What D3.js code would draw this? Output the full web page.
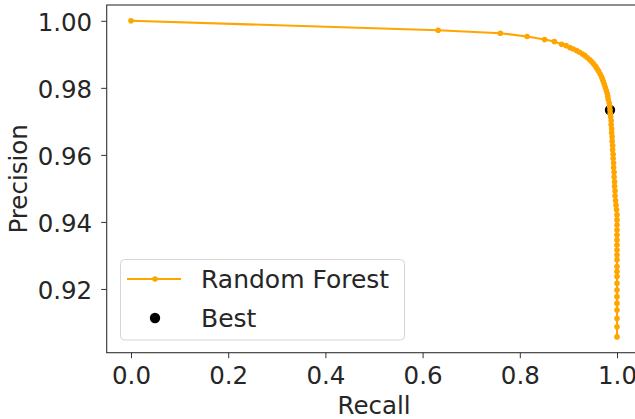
<!DOCTYPE html>
<html>
<head>
<meta charset="utf-8">
<script src="https://cdn.jsdelivr.net/npm/d3@7"></script>
<style>
  html, body { margin: 0; padding: 0; background: #fff; }
  svg { display: block; font-family: "DejaVu Sans", sans-serif; }
</style>
</head>
<body>
<svg id="chart" width="635" height="419"></svg>
<script>
// Precision-recall curve of the random forest classifier
const recall = [
  0.0, 0.632, 0.760, 0.815, 0.851, 0.871, 0.886, 0.895, 0.903, 0.910,
  0.917, 0.923, 0.929, 0.934, 0.939, 0.944, 0.948, 0.952, 0.956, 0.959,
  0.962, 0.965, 0.968, 0.970, 0.972, 0.974, 0.976, 0.978, 0.980, 0.981,
  0.982, 0.984, 0.985, 0.9856, 0.986, 0.987, 0.988, 0.988, 0.989, 0.989,
  0.990, 0.990, 0.991, 0.991, 0.992, 0.992, 0.993, 0.993, 0.994, 0.994,
  0.995, 0.995, 0.996, 0.996, 0.997, 0.998, 0.999,
  1.0, 1.0, 1.0, 1.0, 1.0, 1.0, 1.0, 1.0, 1.0, 1.0,
  1.0, 1.0, 1.0, 1.0, 1.0, 1.0, 1.0, 1.0, 1.0, 1.0, 1.0
];
const precision = [
  1.0, 0.9972, 0.9963, 0.9953, 0.9944, 0.9938, 0.9930, 0.9926, 0.9920, 0.9916,
  0.9911, 0.9906, 0.9901, 0.9896, 0.9890, 0.9884, 0.9878, 0.9871, 0.9864, 0.9857,
  0.9850, 0.9842, 0.9834, 0.9826, 0.9818, 0.9810, 0.9801, 0.9792, 0.9783, 0.9774,
  0.9765, 0.9755, 0.9744, 0.9734, 0.9724, 0.9713, 0.9702, 0.9690, 0.9678, 0.9666,
  0.9654, 0.9641, 0.9628, 0.9615, 0.9602, 0.9589, 0.9576, 0.9562, 0.9548, 0.9534,
  0.9520, 0.9506, 0.9492, 0.9478, 0.9464, 0.9450, 0.9436,
  0.9421, 0.9406, 0.9391, 0.9376, 0.9361, 0.9346, 0.9331, 0.9316, 0.9301, 0.9287,
  0.9267, 0.9252, 0.9237, 0.9217, 0.9197, 0.9177, 0.9157, 0.9137, 0.9112, 0.9087, 0.9057
];
// Best threshold point
const bestRecall = [0.9856];
const bestPrecision = [0.9734];

const xTicks = [0.0, 0.2, 0.4, 0.6, 0.8, 1.0];
const yTicks = [0.92, 0.94, 0.96, 0.98, 1.00];
const seriesNames = ["Random Forest", "Best"];

const svg = d3.select("#chart");
const plotLeft = 106.7, plotTop = 5, plotRight = 641.3, plotBottom = 352.7;

// Data limits with 5% padding on each side
const xExt = d3.extent(recall), yExt = d3.extent(precision);
const xPad = (xExt[1] - xExt[0]) * 0.05, yPad = (yExt[1] - yExt[0]) * 0.05;
const x = d3.scaleLinear().domain([xExt[0] - xPad, xExt[1] + xPad]).range([plotLeft, plotRight]);
const y = d3.scaleLinear().domain([yExt[0] - yPad, yExt[1] + yPad]).range([plotBottom, plotTop]);

const orange = "#ffa500";
const points = recall.map((r, i) => [r, precision[i]]);

const plot = svg.append("g");
plot.append("clipPath").attr("id", "clip")
  .append("rect").attr("x", plotLeft).attr("y", plotTop)
  .attr("width", plotRight - plotLeft).attr("height", plotBottom - plotTop);
const inner = plot.append("g").attr("clip-path", "url(#clip)");

// Best point (underneath the curve)
inner.selectAll("circle.best").data(bestRecall).join("circle")
  .attr("class", "best")
  .attr("cx", (d) => x(d)).attr("cy", (d, i) => y(bestPrecision[i]))
  .attr("r", 5.2).attr("fill", "#000");

// Curve with point markers
inner.append("path").datum(points)
  .attr("fill", "none").attr("stroke", orange).attr("stroke-width", 2.1)
  .attr("stroke-linejoin", "round")
  .attr("d", d3.line().x((d) => x(d[0])).y((d) => y(d[1])));
inner.selectAll("circle.pt").data(points).join("circle")
  .attr("class", "pt")
  .attr("cx", (d) => x(d[0])).attr("cy", (d) => y(d[1]))
  .attr("r", 2.8).attr("fill", orange);

// Axes
const axisColor = "#333";
const xAxis = svg.append("g").attr("transform", `translate(0,${plotBottom})`)
  .call(d3.axisBottom(x).tickValues(xTicks).tickFormat(d3.format(".1f")).tickSize(5.5).tickPadding(8));
const yAxis = svg.append("g").attr("transform", `translate(${plotLeft},0)`)
  .call(d3.axisLeft(y).tickValues(yTicks).tickFormat(d3.format(".2f")).tickSize(5.5).tickPadding(9));
[xAxis, yAxis].forEach((g) => {
  g.select(".domain").remove();
  g.selectAll(".tick line").attr("stroke", axisColor).attr("stroke-width", 1);
  g.selectAll(".tick text").attr("fill", "#262626").attr("font-size", 24.5)
    .attr("font-family", "DejaVu Sans, sans-serif");
});
xAxis.selectAll(".tick text").attr("dy", "0.72em");
yAxis.selectAll(".tick text").attr("dy", "0.4em");

// Frame
svg.append("rect").attr("x", plotLeft).attr("y", plotTop)
  .attr("width", plotRight - plotLeft).attr("height", plotBottom - plotTop)
  .attr("fill", "none").attr("stroke", axisColor).attr("stroke-width", 1.1);

// Axis titles
svg.append("text").attr("x", (plotLeft + plotRight) / 2).attr("y", 414)
  .attr("text-anchor", "middle").attr("font-size", 24.5).attr("fill", "#262626")
  .text("Recall");
svg.append("text").attr("transform", `translate(27,${(plotTop + plotBottom) / 2}) rotate(-90)`)
  .attr("text-anchor", "middle").attr("font-size", 24.5).attr("fill", "#262626")
  .text("Precision");

// Legend
const lg = svg.append("g");
lg.append("rect").attr("x", 120.5).attr("y", 259.5).attr("width", 284).attr("height", 80.5)
  .attr("rx", 4).attr("fill", "#fff").attr("fill-opacity", 0.8)
  .attr("stroke", "#d6d6d6").attr("stroke-width", 1);
lg.append("line").attr("x1", 127).attr("x2", 181).attr("y1", 279).attr("y2", 279)
  .attr("stroke", orange).attr("stroke-width", 2.1);
lg.append("circle").attr("cx", 155).attr("cy", 279).attr("r", 2.8).attr("fill", orange);
lg.append("circle").attr("cx", 155).attr("cy", 318).attr("r", 5.2).attr("fill", "#000");
lg.selectAll("text").data(seriesNames).join("text")
  .attr("x", 201).attr("y", (d, i) => 288 + i * 38.5)
  .attr("font-size", 25).attr("fill", "#262626").text((d) => d);
</script>
</body>
</html>
